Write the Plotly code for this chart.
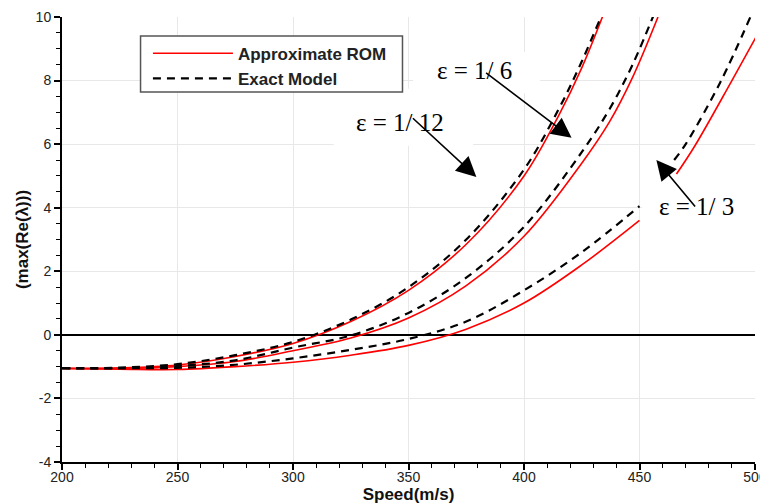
import plotly.graph_objects as go

# ---- data ----
speed_12 = [200, 225, 250, 275, 300, 325, 350, 375, 400, 415, 425, 435]
rom_12   = [-1.05, -1.04, -0.95, -0.68, -0.27, 0.42, 1.40, 2.85, 5.00, 6.90, 8.40, 10.2]
exact_12 = [-1.05, -1.03, -0.92, -0.64, -0.22, 0.48, 1.50, 3.00, 5.20, 7.10, 8.60, 10.3]

speed_6 = [200, 225, 250, 275, 300, 325, 350, 375, 400, 425, 437, 447, 458]
rom_6   = [-1.06, -1.06, -1.00, -0.84, -0.50, -0.10, 0.53, 1.55, 3.10, 5.40, 6.70, 8.10, 10.0]
exact_6 = [-1.05, -1.05, -0.98, -0.80, -0.40, -0.02, 0.69, 1.80, 3.40, 5.75, 7.10, 8.50, 10.4]

speed_3_rom = [200, 225, 250, 275, 300, 325, 350, 375, 400, 425, 450, None, 466, 474, 490, 501]
rom_3       = [-1.06, -1.08, -1.09, -1.00, -0.86, -0.64, -0.33, 0.18, 1.00, 2.20, 3.60, None, 5.06, 5.95, 8.00, 9.44]
speed_3_ex  = [200, 225, 250, 275, 300, 325, 350, 375, 400, 425, 450, None, 465, 470, 485, 498]
exact_3     = [-1.05, -1.05, -1.04, -0.94, -0.74, -0.47, -0.13, 0.42, 1.40, 2.60, 4.05, None, 5.50, 6.00, 7.95, 10.0]

x_ticks = [200, 250, 300, 350, 400, 450, 500]
y_ticks = [-4, -2, 0, 2, 4, 6, 8, 10]
y_tick_text = ["-4", "-2", "0", "2", "4", "6", "8", "10"]

labels = ["\u03b5 = 1/ 12", "\u03b5 = 1/ 6", "\u03b5 = 1/ 3"]

RED = "#ff0000"
fig = go.Figure()

pairs = [(speed_12, rom_12, speed_12, exact_12),
         (speed_6, rom_6, speed_6, exact_6),
         (speed_3_rom, rom_3, speed_3_ex, exact_3)]

for i, (sx, r, ex, e) in enumerate(pairs):
    fig.add_trace(go.Scatter(x=sx, y=r, mode="lines", name="Approximate ROM",
                             line=dict(color=RED, width=1.6, shape="spline", smoothing=1.0),
                             legendgroup="rom", showlegend=(i == 0), connectgaps=False))
for i, (sx, r, ex, e) in enumerate(pairs):
    fig.add_trace(go.Scatter(x=ex, y=e, mode="lines", name="Exact Model",
                             line=dict(color="black", width=2.2, dash="8px,6px", shape="spline", smoothing=1.0),
                             legendgroup="exact", showlegend=(i == 0), connectgaps=False))

# white boxes behind equation labels (cover gridlines) and legend frame
fig.add_shape(type="rect", xref="x", yref="y", x0=317.6, x1=378, y0=5.95, y1=7.74,
              fillcolor="white", line=dict(width=0), layer="between")
fig.add_shape(type="rect", xref="x", yref="y", x0=352, x1=407, y0=7.6, y1=8.9,
              fillcolor="white", line=dict(width=0), layer="between")
fig.add_shape(type="rect", xref="x", yref="y", x0=451, x1=500, y0=3.1, y1=5.0,
              fillcolor="white", line=dict(width=0), layer="between")
fig.add_shape(type="rect", xref="x", yref="y", x0=234, x1=347.4, y0=7.64, y1=9.4,
              fillcolor="white", line=dict(color="#555555", width=1.5), layer="between")

ann_font = dict(family="Liberation Serif, Times New Roman, serif", size=25, color="black")
label_pos = [(346.5, 6.67), (378.6, 8.33), (474.7, 4.03)]
for (x, y), t in zip(label_pos, labels):
    fig.add_annotation(x=x, y=y, xref="x", yref="y", text=t, showarrow=False, font=ann_font)

arrows = [(379.4, 4.97, -65, -60), (420.6, 6.2, -87, -66), (457.3, 5.5, 40, 48)]
for (x, y, ax, ay) in arrows:
    fig.add_annotation(x=x, y=y, xref="x", yref="y", text="", showarrow=True,
                       ax=ax, ay=ay, arrowhead=2, arrowsize=2.5, arrowwidth=1.6,
                       arrowcolor="black", standoff=0, startstandoff=0)

axis_common = dict(showline=True, linecolor="black", linewidth=2, ticks="outside",
                   ticklen=6, tickwidth=1.5, tickcolor="black", showgrid=True,
                   gridcolor="#e8e8e8", gridwidth=1, mirror=False, automargin=False,
                   tickfont=dict(family="Liberation Sans, Arial, sans-serif", size=14, color="#222222"))

fig.update_xaxes(range=[200, 500], tickvals=x_ticks, zeroline=False, ticklabelstandoff=-5,
                 minor=dict(ticks="outside", ticklen=4, tickwidth=1, tickcolor="black", dtick=10, showgrid=False),
                 title=dict(text="<b>Speed(m/s)</b>", standoff=0,
                            font=dict(family="Liberation Sans, Arial, sans-serif", size=17, color="#111111")),
                 **axis_common)
fig.update_yaxes(range=[-4, 10], tickvals=y_ticks, ticktext=y_tick_text,
                 zeroline=True, zerolinecolor="black", zerolinewidth=2,
                 minor=dict(ticks="outside", ticklen=4, tickwidth=1, tickcolor="black", dtick=0.5, showgrid=False),
                 title=dict(text="<b>(max(Re(\u03bb)))</b>", standoff=3,
                            font=dict(family="Liberation Sans, Arial, sans-serif", size=17, color="#111111")),
                 **axis_common)

# the page body adds an 8px offset, so margins compensate to place the plot area
fig.update_layout(
    width=768, height=504,
    margin=dict(l=54, r=21, t=9, b=50),
    plot_bgcolor="white", paper_bgcolor="white",
    legend=dict(x=0.124, y=0.958, xanchor="left", yanchor="top",
                bgcolor="rgba(0,0,0,0)", borderwidth=0, itemwidth=80,
                font=dict(family="Liberation Sans, Arial, sans-serif", size=17, color="#222222", weight="bold"),
                tracegroupgap=0),
    showlegend=True,
)

fig.write_html("out.html")
